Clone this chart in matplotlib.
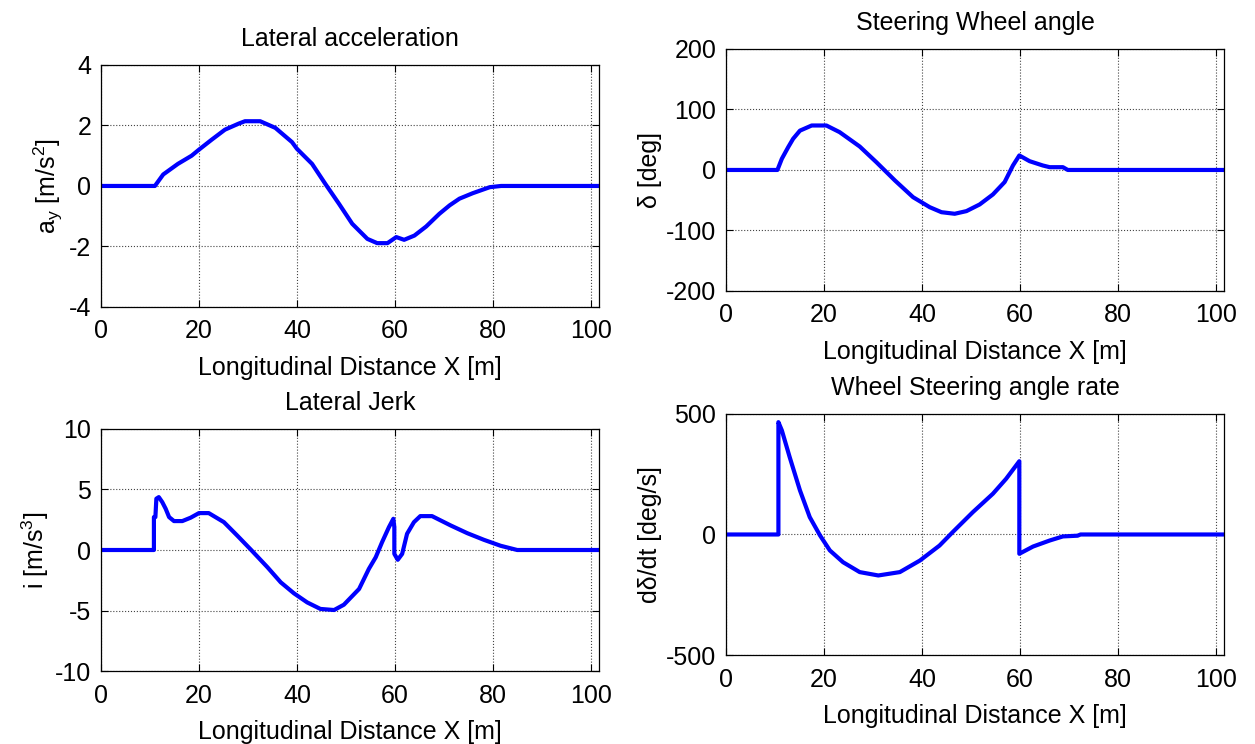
import matplotlib
matplotlib.use("Agg")
import matplotlib.pyplot as plt

plt.rcParams['font.family'] = ['Liberation Sans', 'DejaVu Sans']
plt.rcParams['mathtext.fontset'] = 'custom'
plt.rcParams['mathtext.rm'] = 'Liberation Sans'
plt.rcParams['mathtext.it'] = 'Liberation Sans'
plt.rcParams['axes.unicode_minus'] = False

# lateral acceleration [m/s^2]
acc_x = [0, 11.0, 12.7, 15.7, 18.5, 20.0, 22.6, 25.3, 28.1, 29.4, 32.5, 35.6, 39.0, 40.0,
         43.1, 45.8, 48.6, 51.3, 54.4, 56.4, 58.5, 60.3, 61.9, 64.0, 66.4, 69.1, 71.2,
         73.2, 75.9, 79.4, 81.7, 101.7]
acc_y = [0, 0, 0.38, 0.73, 1.0, 1.2, 1.53, 1.86, 2.06, 2.14, 2.14, 1.92, 1.45, 1.23,
         0.73, 0.07, -0.59, -1.25, -1.75, -1.89, -1.89, -1.69, -1.78, -1.64, -1.34, -0.92,
         -0.64, -0.42, -0.24, -0.04, 0, 0]

# steering wheel angle [deg]
steer_x = [0, 10.5, 11.4, 12.7, 13.7, 15.1, 17.5, 20.5, 23.2, 27.3, 30.7, 34.5, 38.2,
           41.6, 44.0, 46.7, 49.1, 51.8, 54.5, 56.9, 58.6, 59.9, 62.0, 64.7, 66.1, 68.8,
           69.8, 101.7]
steer_y = [0, 0, 18.5, 37.7, 51.5, 65, 73.5, 73.5, 62.5, 38.8, 12.9, -17.4, -45,
           -61.5, -69.8, -72.4, -68, -57, -40.5, -20, 7.4, 24, 14.5, 7.4, 4.6, 4.6,
           0, 0]

# lateral jerk [m/s^3]
jerk_x = [0, 10.5, 10.8, 10.8, 11.1, 11.3, 11.8, 12.5, 13.2, 13.9, 14.9, 16.6, 18.3,
          20.0, 22.0, 25.1, 27.8, 30.6, 34.0, 36.7, 39.4, 42.1, 44.8, 47.6, 49.6, 52.7,
          54.7, 56.1, 57.4, 58.8, 59.7, 59.9, 59.9, 60.6, 61.5, 62.5, 63.9, 65.2, 67.6,
          71.4, 74.8, 78.2, 81.6, 85.0, 101.7]
jerk_y = [0, 0, 0, 2.72, 2.72, 4.24, 4.37, 3.96, 3.41, 2.72, 2.39, 2.39, 2.67,
          3.05, 3.05, 2.30, 1.20, 0.03, -1.43, -2.67, -3.58, -4.33, -4.87, -4.96, -4.52,
          -3.22, -1.56, -0.6, 0.65, 1.89, 2.58, 1.89, -0.32, -0.81, -0.32, 1.34, 2.30,
          2.8, 2.8, 2.03, 1.39, 0.84, 0.35, 0, 0]

# wheel steering angle rate [deg/s]
rate_x = [0, 10.7, 10.7, 11.4, 13.0, 15.1, 17.1, 19.2, 21.2, 23.9, 27.3, 31.1, 35.5,
          39.6, 43.6, 46.3, 50.4, 54.5, 57.2, 59.9, 59.9, 62.7, 66.1, 68.8, 71.8, 72.4,
          101.7]
rate_y = [0, 0, 466, 432, 321, 183, 72, -4, -66, -115, -156, -170, -156,
          -108, -46, 10, 92.5, 169, 231, 304, -80, -50, -25, -8, -5, 0,
          0]

x_ticks = [0, 20, 40, 60, 80, 100]
fs = 18

fig = plt.figure(figsize=(12.55, 7.44), dpi=100)

panels = [
    ([0.0805, 0.5874, 0.3968, 0.3253], acc_x, acc_y, (-4, 4), [-4, -2, 0, 2, 4],
     'Lateral acceleration', r'a$_y$ [m/s$^2$]'),
    ([0.5785, 0.6089, 0.3968, 0.3253], steer_x, steer_y, (-200, 200),
     [-200, -100, 0, 100, 200], 'Steering Wheel angle', 'δ [deg]'),
    ([0.0805, 0.0981, 0.3968, 0.3253], jerk_x, jerk_y, (-10, 10), [-10, -5, 0, 5, 10],
     'Lateral Jerk', r'i [m/s$^3$]'),
    ([0.5785, 0.1196, 0.3968, 0.3240], rate_x, rate_y, (-500, 500), [-500, 0, 500],
     'Wheel Steering angle rate', 'dδ/dt [deg/s]'),
]

for pos, xs, ys, ylim, yt, title, ylab in panels:
    ax = fig.add_axes(pos)
    ax.plot(xs, ys, color='#0000ff', lw=3.0, solid_joinstyle='round')
    ax.set_xlim(0, 101.7)
    ax.set_ylim(*ylim)
    ax.set_xticks(x_ticks)
    ax.set_yticks(yt)
    ax.grid(True, color='#444444', ls=':', lw=0.8)
    ax.tick_params(direction='in', top=True, right=True, labelsize=fs, length=5)
    ax.tick_params(axis='x', pad=9)
    ax.tick_params(axis='y', pad=7)
    ax.set_title(title, fontsize=fs, pad=14)
    ax.set_xlabel('Longitudinal Distance X [m]', fontsize=fs, labelpad=9)
    ax.set_ylabel(ylab, fontsize=fs, labelpad=3)
    for s in ax.spines.values():
        s.set_linewidth(0.9)

fig.savefig('out.png', dpi=100)
